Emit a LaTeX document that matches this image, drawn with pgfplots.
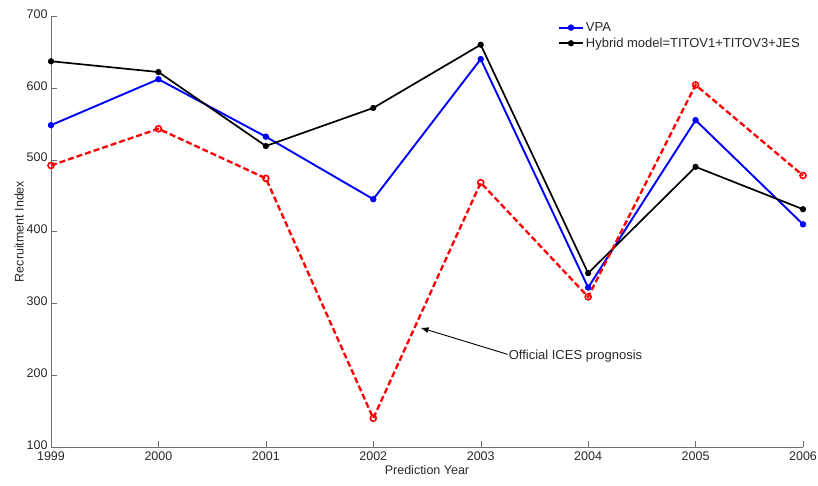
\documentclass[border=0pt]{standalone}
\usepackage{pgfplots}
\pgfplotsset{compat=1.18}
\usetikzlibrary{arrows.meta}
\usepackage{fontspec}
\setmainfont{Liberation Sans}
\definecolor{axgray}{RGB}{110,110,110}
\definecolor{txtgray}{RGB}{40,40,40}
\begin{document}
\begin{tikzpicture}
\begin{axis}[
  scale only axis,
  width=752pt, height=431pt,
  at={(0,0)}, anchor=south west,
  xmin=1999, xmax=2006, ymin=100, ymax=700,
  xtick={1999,2000,2001,2002,2003,2004,2005,2006},
  ytick={100,200,300,400,500,600,700},
  axis lines=left,
  axis line style={-, draw=axgray},
  tick style={draw=axgray},
  tick align=inside,
  major tick length=6pt,
  /pgf/number format/assume math mode=true,
  xticklabel style={/pgf/number format/1000 sep=, yshift=-1pt},
  yticklabel style={yshift=2pt},
  ticklabel style={font=\fontsize{12.5}{14}\selectfont, text=txtgray},
  xlabel={Prediction Year},
  ylabel={Recruitment Index},
  label style={font=\fontsize{12.5}{14}\selectfont, text=txtgray},
  xlabel style={yshift=2pt},
  ylabel style={yshift=-4pt},
  legend style={at={(rel axis cs:0.67,0.995)}, anchor=north west, draw=none, fill=none,
    font=\fontsize{13}{15}\selectfont, text=txtgray, row sep=1pt},
  legend cell align=left,
  legend image code/.code={\draw[mark repeat=2,mark phase=2,#1] plot coordinates {(0pt,0pt) (12pt,0pt) (24pt,0pt)};},
  clip=false,
]
\addplot[blue, line width=1.9pt, mark=*, mark size=2.2pt] coordinates {
 (1999,548) (2000,612) (2001,532) (2002,445) (2003,640) (2004,322) (2005,555) (2006,410)};
\addlegendentry{VPA}
\addplot[black, line width=1.7pt, mark=*, mark size=2.2pt] coordinates {
 (1999,637) (2000,622) (2001,519) (2002,572) (2003,660) (2004,342) (2005,490) (2006,431)};
\addlegendentry{Hybrid model=TITOV1+TITOV3+JES}
\addplot[red, line width=2.3pt, dashed, dash pattern=on 6pt off 3pt, mark=o, mark size=3pt, mark options={solid, line width=1.6pt}, forget plot] coordinates {
 (1999,492) (2000,543) (2001,474) (2002,140) (2003,468) (2004,309) (2005,604) (2006,478)};
\draw[-{Latex[length=8pt,width=6pt]}, black, line width=0.9pt] (axis cs:2003.25,229) -- (axis cs:2002.44,266);
\node[anchor=west, inner sep=1pt, font=\fontsize{13}{14}\selectfont, text=txtgray] at (axis cs:2003.25,226) {Official ICES prognosis};
\end{axis}
\pgfresetboundingbox
\path[use as bounding box] (-51pt,-38pt) rectangle (767pt,447pt);
\end{tikzpicture}
\end{document}
